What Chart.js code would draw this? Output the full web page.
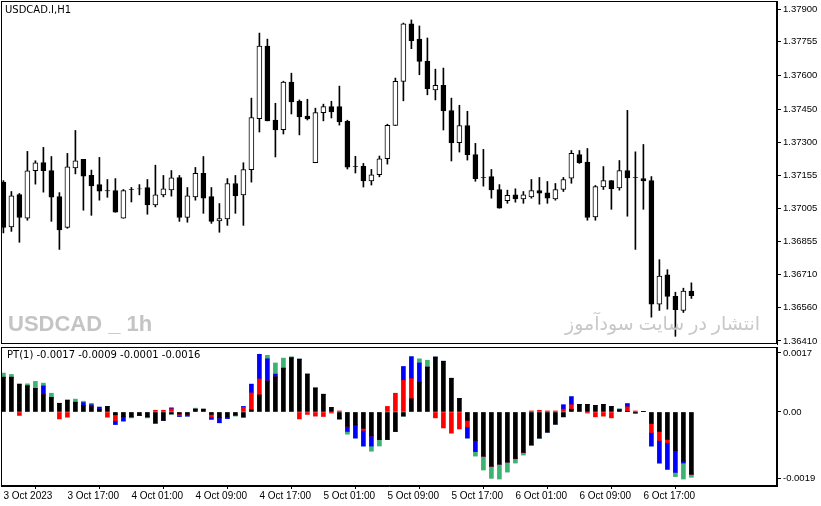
<!DOCTYPE html>
<html><head><meta charset="utf-8">
<script src="https://cdn.jsdelivr.net/npm/chart.js@4.4.0/dist/chart.umd.min.js"></script>
<style>
html,body{margin:0;padding:0;background:#fff;width:821px;height:506px;overflow:hidden}
#c1{position:absolute;left:0;top:0}
#c2{position:absolute;left:0;top:346px}
</style></head><body>
<canvas id="c1" width="821" height="346"></canvas>
<canvas id="c2" width="821" height="160"></canvas>
<script>
const title = "USDCAD.I,H1";
const watermark = "USDCAD _ 1h";
const siteText = "انتشار در سایت سودآموز";
const indTitle = "PT(1) -0.0017 -0.0009 -0.0001 -0.0016";
const timeLabels = ["3 Oct 2023","3 Oct 17:00","4 Oct 01:00","4 Oct 09:00","4 Oct 17:00","5 Oct 01:00","5 Oct 09:00","5 Oct 17:00","6 Oct 01:00","6 Oct 09:00","6 Oct 17:00"];
const priceTicks = [1.37900,1.37755,1.37600,1.37450,1.37300,1.37155,1.37005,1.36855,1.36710,1.36560,1.36410];
const indTicks = [17,0,-19];

const open = [1.37123,1.36922,1.37067,1.36961,1.37174,1.37211,1.37175,1.37058,1.36920,1.37187,
1.37225,1.37153,1.37112,1.37085,1.37085,1.36961,1.37090,1.37093,1.37099,1.37021,
1.37066,1.37088,1.37144,1.36965,1.37057,1.37162,1.37058,1.36949,1.36958,1.37117,
1.37066,1.37179,1.37408,1.37734,1.37401,1.37359,1.37572,1.37486,1.37419,1.37210,
1.37435,1.37462,1.37462,1.37396,1.37194,1.37194,1.37129,1.37156,1.37228,1.37377,
1.37575,1.37833,1.37765,1.37666,1.37537,1.37557,1.37444,1.37300,1.37377,1.37247,
1.37144,1.37148,1.37090,1.37040,1.37066,1.37048,1.37057,1.37085,1.37075,1.37048,
1.37090,1.37141,1.37247,1.37213,1.36967,1.37102,1.37130,1.37097,1.37175,1.37144,
1.37139,1.37130,1.36575,1.36707,1.36611,1.36547,1.36634];
const close = [1.36920,1.37061,1.36965,1.37174,1.37210,1.37174,1.37055,1.36908,1.37192,1.37219,
1.37150,1.37106,1.37082,1.37084,1.36988,1.37085,1.37089,1.37092,1.37021,1.37066,
1.37093,1.37142,1.36965,1.37061,1.37162,1.37051,1.36947,1.36959,1.37117,1.37061,
1.37179,1.37413,1.37734,1.37398,1.37357,1.37572,1.37483,1.37416,1.37407,1.37435,
1.37462,1.37438,1.37393,1.37190,1.37193,1.37128,1.37156,1.37228,1.37378,1.37576,
1.37833,1.37758,1.37665,1.37542,1.37557,1.37443,1.37299,1.37377,1.37245,1.37139,
1.37143,1.37088,1.37006,1.37064,1.37048,1.37066,1.37085,1.37073,1.37051,1.37090,
1.37135,1.37252,1.37210,1.36965,1.37103,1.37130,1.37093,1.37175,1.37142,1.37143,
1.37129,1.36575,1.36701,1.36610,1.36551,1.36634,1.36613];
const high = [1.37130,1.37081,1.37072,1.37261,1.37219,1.37279,1.37238,1.37076,1.37252,1.37355,
1.37225,1.37177,1.37234,1.37135,1.37139,1.37090,1.37099,1.37112,1.37135,1.37199,
1.37153,1.37175,1.37153,1.37099,1.37189,1.37238,1.37099,1.37027,1.37139,1.37153,
1.37210,1.37500,1.37792,1.37765,1.37477,1.37576,1.37612,1.37492,1.37495,1.37455,
1.37473,1.37486,1.37554,1.37401,1.37239,1.37207,1.37180,1.37240,1.37383,1.37590,
1.37837,1.37851,1.37824,1.37770,1.37630,1.37635,1.37500,1.37468,1.37441,1.37297,
1.37270,1.37180,1.37112,1.37087,1.37093,1.37081,1.37135,1.37144,1.37126,1.37117,
1.37144,1.37265,1.37265,1.37274,1.37108,1.37193,1.37130,1.37220,1.37445,1.37259,
1.37292,1.37148,1.36775,1.36730,1.36629,1.36647,1.36671];
const low = [1.36895,1.36902,1.36853,1.36952,1.37114,1.37078,1.36947,1.36821,1.36916,1.37160,
1.36997,1.36974,1.37042,1.37055,1.36988,1.36961,1.37034,1.37066,1.36979,1.37012,
1.37057,1.37060,1.36947,1.36943,1.37042,1.36983,1.36938,1.36898,1.36929,1.36983,
1.36929,1.37123,1.37348,1.37398,1.37236,1.37339,1.37429,1.37335,1.37402,1.37210,
1.37398,1.37411,1.37379,1.37182,1.37164,1.37101,1.37110,1.37147,1.37204,1.37377,
1.37488,1.37722,1.37605,1.37515,1.37492,1.37357,1.37218,1.37258,1.37222,1.37127,
1.37105,1.37051,1.37006,1.37028,1.37033,1.37028,1.37051,1.37024,1.37028,1.37042,
1.37081,1.37118,1.37207,1.36952,1.36952,1.37090,1.37001,1.37087,1.36970,1.36821,
1.37001,1.36517,1.36547,1.36553,1.36431,1.36538,1.36601];

// indicator segments, in units of 0.0001
const ptBlack = [10.0,10.0,8.0,7.5,6.8,5.0,4.2,2.5,3.4,2.8, 1.9,1.5,0.8,1.6,-0.8,-1.4,-1.4,-1.0,-1.4,-3.2,
-2.4,-0.6,-0.6,-0.7,0.8,0.8,-0.7,-1.7,-1.5,-0.9, -1.5,0.6,4.9,8.9,10.1,12.6,15.6,15.2,10.9,6.9,
5.1,1.3,-2.0,-4.1,-3.8,-4.7,-6.9,-7.9,-7.9,-5.6, -1.2,3.8,8.6,12.9,15.8,14.6,9.7,3.9,-2.4,-8.2,
-12.7,-15.6,-15.0,-14.4,-13.4,-11.6,-9.5,-7.5,-5.8,-3.5, -1.4,0.8,2.2,2.2,1.9,2.2,1.6,0.6,0.2,-0.3,
0.1,-3.3,-5.6,-7.9,-11.1,-14.2,-17.9];
const ptRed = [0,0,-1.0,0,0,0,0,-2.0,-1.5,0, 0,0,0,-1.5,-1.7,0,0,0,0,0.5,
0.5,0.9,-0.4,0,0,0,-0.8,0,0,0, 1.3,4.9,4.6,0,0,0,0,-2.0,-0.7,-1.2,
-1.3,-0.3,0.3,0,0,-0.6,0,0,1.6,5.4, 9.1,5.8,0,0,-1.7,-4.6,-6.1,-4.9,-1.9,0,
0,0,0,0,0,0,0.3,0.5,0.3,0.3, 0.8,1.3,0,-0.3,-1.4,-1.2,-1.7,0,1.3,0.3,
0,-2.6,-2.6,-1.0,0,0,0];
const ptBlue = [0,0,0,0,0,2.5,0,0,0,0, 0.8,0.6,0.6,0,-1.1,-1.2,0,0,0,0,
0,0.3,-0.3,-0.5,0,0,-0.6,-1.4,-0.4,0, 0.3,2.5,7.1,6.4,0.8,0,0,0,0,0,
0,0,0,-1.5,-3.7,-4.5,-2.9,0,0,0, 4.0,6.3,5.5,0,0,0,0,0,-3.2,-3.2,
0,0,0,0,0,0,0,0,0,0, 1.3,2.3,0,0,0,0,0,0.2,0.9,0,
0,-3.9,-6.5,-7.6,-6.3,-0.5,0];
const ptGreen = [1.2,0.8,0,0.6,2.0,0.8,1.2,0,0,0.9, 0.4,0.4,0,0,0,0,-0.3,0,-0.3,0,
0,0,0,0,0.3,0,0,0,0,-0.3, 0,0,0,1.0,3.2,2.9,0.3,0,0,0,
0,0,0,-0.8,0,0,-1.5,-1.9,0,0, 0,0,1.2,2.0,0,0,0,0,0,-1.3,
-4.0,-3.5,-4.3,-2.9,-1.3,-0.8,0,0,0,0, 0,0,0,0,0,0,0,0.1,0,0,
0,0,0,0,-1.2,-4.6,-0.9];

const FONT = "'DejaVu Sans', sans-serif";
const AXF = "'Liberation Sans', sans-serif";
const XMIN = -0.3, XMAX = 96.7;
const frame = {id:'frame', afterDraw(c){const a=c.chartArea,x=c.ctx;x.save();x.strokeStyle='#000';x.lineWidth=1;
  x.strokeRect(Math.round(a.left)+0.5,Math.round(a.top)+0.5,Math.round(a.right-a.left)-1,Math.round(a.bottom-a.top)-1);x.restore();}};
const noPad = s=>{s.paddingTop=0;s.paddingBottom=0;s.paddingLeft=0;s.paddingRight=0;};

const idx = open.map((_,i)=>i);
const bull = idx.map(i=>close[i]>=open[i]);
const topTexts = {id:'topTexts', afterDatasetsDraw(c){const x=c.ctx;x.save();
  x.fillStyle='#000';x.font="10px "+FONT;x.textBaseline='middle';x.fillText(title,5,10);
  x.fillStyle='#c4c4c4';x.font="bold 22px 'Liberation Sans', sans-serif";x.fillText(watermark,8,325);
  x.font="19px 'Noto Sans', 'DejaVu Sans', sans-serif";x.textAlign='right';x.fillStyle='#c8c8c8';x.fillText(siteText,760,325);
  x.restore();}};

new Chart(document.getElementById('c1'),{
  type:'bar',
  data:{datasets:[
    {data:idx.map(i=>({x:i,y:[low[i],high[i]]})),backgroundColor:'#000',barThickness:1,grouped:false,order:2},
    {data:idx.map(i=>({x:i,y:[open[i],close[i]===open[i]?close[i]-0.00001:close[i]]})),
     backgroundColor:idx.map(i=>bull[i]?'#fff':'#000'),borderColor:'#000',borderWidth:1,borderSkipped:false,
     barThickness:5,grouped:false,order:1}
  ]},
  options:{responsive:false,animation:false,events:[],
    layout:{padding:{left:1,top:1,bottom:2,right:0}},
    plugins:{legend:{display:false},tooltip:{enabled:false}},
    scales:{
      x:{type:'linear',min:XMIN,max:XMAX,offset:false,display:false},
      y:{position:'right',min:1.363965,max:1.37936,
        afterFit(s){s.width=44;noPad(s);},
        afterBuildTicks(s){s.ticks=priceTicks.map(v=>({value:v}));},
        ticks:{font:{size:9.5,family:AXF},color:'#000',padding:2,callback:v=>v.toFixed(5)},
        grid:{drawOnChartArea:false,tickLength:4,color:'#000'},
        border:{color:'#000'}}
    }},
  plugins:[frame,topTexts]
});

const segs=[[ptBlack,'#000'],[ptRed,'#ff0000'],[ptBlue,'#0000ff'],[ptGreen,'#3cb371']];
const botTexts = {id:'botTexts', afterDatasetsDraw(c){const x=c.ctx;x.save();x.fillStyle='#000';
  x.font="10px "+FONT;x.textBaseline='middle';x.fillText(indTitle,7,9);x.restore();}};
new Chart(document.getElementById('c2'),{
  type:'bar',
  data:{datasets:segs.map(([arr,col])=>({data:idx.map(i=>({x:i,y:arr[i]})),backgroundColor:col,barThickness:4}))},
  options:{responsive:false,animation:false,events:[],
    layout:{padding:{left:1,top:1,right:0,bottom:0}},
    plugins:{legend:{display:false},tooltip:{enabled:false}},
    scales:{
      x:{type:'linear',min:XMIN,max:XMAX,stacked:true,offset:false,
        afterFit(s){s.height=20;noPad(s);},
        afterBuildTicks(s){s.ticks=timeLabels.map((_,k)=>({value:k*8}));},
        ticks:{font:{size:10,family:AXF},color:'#000',align:'start',maxRotation:0,autoSkip:false,padding:1,
          callback:(v,k)=>timeLabels[k]},
        grid:{drawOnChartArea:false,tickLength:3,color:'#000'},border:{color:'#000'}},
      y:{position:'right',stacked:true,min:-21.3,max:18.7,
        afterFit(s){s.width=44;noPad(s);},
        afterBuildTicks(s){s.ticks=indTicks.map(v=>({value:v}));},
        ticks:{font:{size:9.5,family:AXF},color:'#000',padding:2,callback:v=>v===0?'0.00':(v/10000).toFixed(4)},
        grid:{drawOnChartArea:false,tickLength:4,color:'#000'},border:{color:'#000'}}
    }},
  plugins:[frame,botTexts]
});
</script></body></html>
